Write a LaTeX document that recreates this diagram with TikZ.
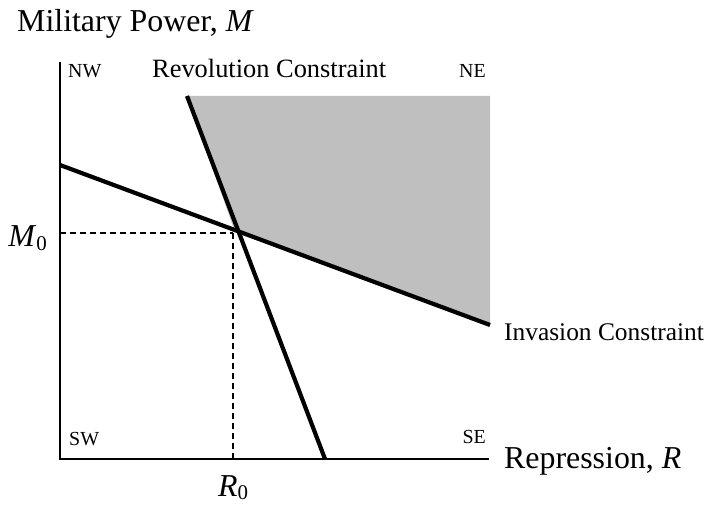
\documentclass[tikz,border=0pt]{standalone}
\usepackage{fontspec}
\setmainfont{Liberation Serif}
\usetikzlibrary{positioning,calc}

\newcommand{\subzero}{\raisebox{-0.12em}{\fontsize{21}{24}\selectfont 0}}

\begin{document}
\begin{tikzpicture}[
    x=1bp, y=-1bp,
    big/.style={font=\fontsize{32}{36}\selectfont, inner sep=0pt},
    mid/.style={font=\fontsize{25.5}{30}\selectfont, inner sep=0pt},
    corner/.style={font=\fontsize{20}{24}\selectfont, inner sep=0pt},
    axis/.style={line width=2.2pt},
    constr/.style={line width=4.2pt},
    guide/.style={line width=1.8pt, dash pattern=on 6bp off 4bp},
]
\useasboundingbox (0,0) rectangle (715,507);

% axes corners and constraint end points
\coordinate (O) at (60,459);
\coordinate (top) at (60,62);
\coordinate (right) at (489,459);
\coordinate (inv1) at (60,165);
\coordinate (inv2) at (490,325);
\coordinate (rev1) at (187,96);
\coordinate (rev2) at (325,459);
\coordinate (X) at (235,232);
\coordinate (D) at (233,233);

% feasible region
\fill[gray!50] (rev1) -- (490,96) -- (inv2) -- (X) -- cycle;

\draw[guide] (O |- D) -- (D);
\draw[guide] (D) -- (D |- O);

\draw[axis] (top) -- (O) -- (right);
\draw[constr] (inv1) -- (inv2);
\draw[constr] (rev1) -- (rev2);

\node[big, anchor=base west] (ylab) at (17,32) {Military Power, \textit{M}};
\node[big, anchor=base west] (xlab) at (504,468) {Repression, \textit{R}};
\node[big, anchor=base east] (m0) at (47,247) {\textit{M}\subzero};
\node[big, anchor=base] (r0) at (233,496) {\textit{R}\subzero};
\node[mid, font=\fontsize{26.5}{30}\selectfont, anchor=base west] (revlab) at (152,78) {Revolution Constraint};
\node[mid, anchor=base west] (invlab) at (504,340) {Invasion Constraint};
\node[corner, anchor=base west] (nw) at (68,78) {NW};
\node[corner, anchor=base east] (ne) at (486,78) {NE};
\node[corner, anchor=base west] (sw) at (69,445) {SW};
\node[corner, anchor=base east] (se) at (486,443) {SE};
\end{tikzpicture}
\end{document}
